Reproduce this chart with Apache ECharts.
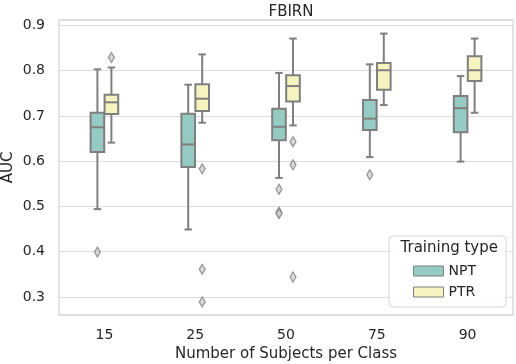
<!DOCTYPE html>
<html>
<head>
<meta charset="utf-8">
<script src="https://cdn.jsdelivr.net/npm/echarts@6/dist/echarts.min.js"></script>
<style>
html, body { margin: 0; padding: 0; background: #fff; }
#chart { width: 516px; height: 364px; }
</style>
</head>
<body>
<div id="chart"></div>
<script>
var categories = ['15', '25', '50', '75', '90'];
// [whisker low, Q1, median, Q3, whisker high]
var nptBoxes = [
	[0.494, 0.620, 0.675, 0.707, 0.803],
	[0.449, 0.587, 0.637, 0.705, 0.769],
	[0.563, 0.646, 0.676, 0.716, 0.795],
	[0.609, 0.669, 0.694, 0.735, 0.814],
	[0.599, 0.664, 0.717, 0.744, 0.788]
];
var ptrBoxes = [
	[0.641, 0.704, 0.730, 0.747, 0.807],
	[0.685, 0.711, 0.738, 0.770, 0.836],
	[0.679, 0.732, 0.766, 0.790, 0.871],
	[0.724, 0.758, 0.801, 0.817, 0.882],
	[0.707, 0.777, 0.801, 0.832, 0.871]
];
// outliers: [category index, value]
var nptOutliers = [[0, 0.399], [2, 0.538], [2, 0.487], [2, 0.484], [3, 0.570]];
var ptrOutliers = [[0, 0.829], [1, 0.583], [1, 0.361], [1, 0.289], [2, 0.643], [2, 0.592], [2, 0.344]];

var edge = '#7f7f7f';
var nptColor = '#95cbc2';
var ptrColor = '#f5f3c0';
var textColor = '#262626';
var font = 'DejaVu Sans';

function boxData(boxes) {
	return boxes.map(function(b, i) {
		return [i].concat(b);
	});
}

function boxItem(side, fill) {
	return function(params, api) {
		var band = api.size([1, 0])[0];
		var w = band * 0.15;
		var cap = w * 0.55;
		var i = api.value(0);
		var x = api.coord([i, 0])[0] + side * band * 0.077;
		var lo = api.coord([i, api.value(1)])[1];
		var q1 = api.coord([i, api.value(2)])[1];
		var med = api.coord([i, api.value(3)])[1];
		var q3 = api.coord([i, api.value(4)])[1];
		var hi = api.coord([i, api.value(5)])[1];
		var ls = { stroke: edge, lineWidth: 2, fill: null };
		return {
			type: 'group',
			children: [
				{ type: 'line', shape: { x1: x, y1: q1, x2: x, y2: lo }, style: ls },
				{ type: 'line', shape: { x1: x - cap / 2, y1: lo, x2: x + cap / 2, y2: lo }, style: ls },
				{ type: 'line', shape: { x1: x, y1: q3, x2: x, y2: hi }, style: ls },
				{ type: 'line', shape: { x1: x - cap / 2, y1: hi, x2: x + cap / 2, y2: hi }, style: ls },
				{ type: 'rect', shape: { x: x - w / 2, y: q3, width: w, height: q1 - q3 },
					style: { fill: fill, stroke: edge, lineWidth: 2 } },
				{ type: 'line', shape: { x1: x - w / 2, y1: med, x2: x + w / 2, y2: med }, style: ls }
			]
		};
	};
}

var dom = document.getElementById('chart');
var myChart = echarts.init(dom, null, { renderer: 'canvas' });
var option = {
	animation: false,
	backgroundColor: '#fff',
	textStyle: { fontFamily: font, color: textColor },
	title: {
		text: 'FBIRN',
		left: 286,
		top: 0,
		textAlign: 'center',
		textStyle: { fontFamily: font, fontWeight: 'normal', fontSize: 15, color: textColor }
	},
	grid: {
		left: 59, right: 3, top: 20, bottom: 49,
		containLabel: false,
		outerBoundsMode: 'none',
		show: true,
		borderColor: '#d6d6d6',
		borderWidth: 1.3
	},
	legend: {
		orient: 'vertical',
		right: 10,
		top: 236,
		padding: [28, 30, 8, 24],
		itemWidth: 30,
		itemHeight: 10,
		itemGap: 7,
		backgroundColor: 'rgba(255,255,255,0.85)',
		borderColor: '#d6d6d6',
		borderWidth: 1,
		borderRadius: 4,
		textStyle: { fontFamily: font, fontSize: 14, color: textColor },
		data: [
			{ name: 'NPT', icon: 'rect', itemStyle: { color: nptColor, borderColor: edge, borderWidth: 1 } },
			{ name: 'PTR', icon: 'rect', itemStyle: { color: ptrColor, borderColor: edge, borderWidth: 1 } }
		]
	},
	graphic: [{
		type: 'text',
		right: 18,
		top: 241,
		z: 100,
		style: { text: 'Training type', fontFamily: font, fontSize: 15, fill: textColor }
	}],
	xAxis: {
		type: 'category',
		data: categories,
		name: 'Number of Subjects per Class',
		nameLocation: 'middle',
		nameGap: 31,
		nameTextStyle: { fontFamily: font, fontSize: 15, color: textColor },
		axisLine: { show: false },
		axisTick: { show: false },
		axisLabel: { margin: 13, fontFamily: font, fontSize: 14, color: textColor },
		splitLine: { show: false }
	},
	yAxis: {
		type: 'value',
		min: 0.26,
		max: 0.912,
		name: 'AUC',
		nameLocation: 'middle',
		nameMoveOverlap: false,
		nameGap: 43,
		nameTextStyle: { fontFamily: font, fontSize: 15, color: textColor },
		axisLine: { show: false },
		axisTick: { show: false },
		axisLabel: {
			margin: 14, fontFamily: font, fontSize: 14, color: textColor,
			showMinLabel: false, showMaxLabel: false,
			formatter: function(v) { return v.toFixed(1); }
		},
		splitLine: { lineStyle: { color: '#dcdcdc', width: 1.2 } }
	},
	series: [{
		name: 'NPT',
		type: 'custom',
		itemStyle: { color: nptColor },
		encode: { x: 0, y: [1, 2, 3, 4, 5] },
		renderItem: boxItem(-1, nptColor),
		data: boxData(nptBoxes)
	}, {
		name: 'PTR',
		type: 'custom',
		itemStyle: { color: ptrColor },
		encode: { x: 0, y: [1, 2, 3, 4, 5] },
		renderItem: boxItem(1, ptrColor),
		data: boxData(ptrBoxes)
	}, {
		name: 'NPT outliers',
		type: 'scatter',
		symbol: 'diamond',
		symbolSize: [6, 10],
		symbolOffset: [-7, 0],
		itemStyle: { color: '#d0d0d0', borderColor: edge, borderWidth: 1.3 },
		data: nptOutliers
	}, {
		name: 'PTR outliers',
		type: 'scatter',
		symbol: 'diamond',
		symbolSize: [6, 10],
		symbolOffset: [7, 0],
		itemStyle: { color: '#d0d0d0', borderColor: edge, borderWidth: 1.3 },
		data: ptrOutliers
	}]
};
myChart.setOption(option, true);
</script>
</body>
</html>
